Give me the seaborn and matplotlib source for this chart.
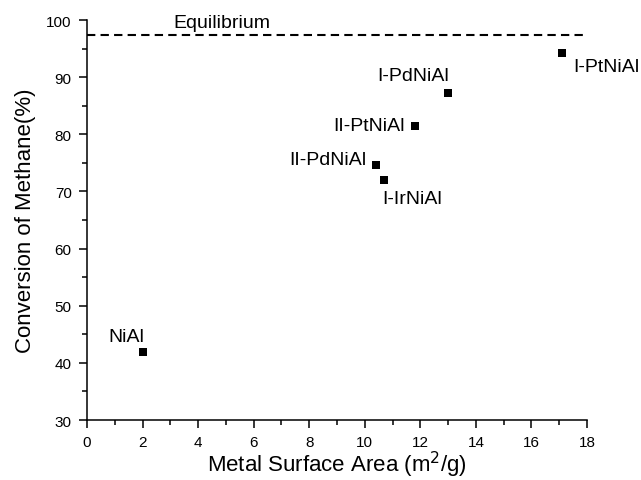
import matplotlib
matplotlib.use('Agg')
import matplotlib.pyplot as plt
from matplotlib.ticker import MultipleLocator
import seaborn as sns
import pandas as pd

# catalyst data
catalysts = ['NiAl', 'II-PdNiAl', 'I-IrNiAl', 'II-PtNiAl', 'I-PdNiAl', 'I-PtNiAl']
surface_area = [2.0, 10.4, 10.7, 11.8, 13.0, 17.1]
conversion = [41.9, 74.7, 72.0, 81.5, 87.2, 94.2]
equilibrium = 97.3

# label offsets (points) and alignment for each catalyst
label_pos = {
    'NiAl': ((-11.5, 11.5), 'center'),
    'II-PdNiAl': ((-6.5, 3.5), 'right'),
    'I-IrNiAl': ((-1.5, -13), 'left'),
    'II-PtNiAl': ((-7, 0), 'right'),
    'I-PdNiAl': ((-25, 13), 'center'),
    'I-PtNiAl': ((8, -9.5), 'left'),
}

df = pd.DataFrame({'catalyst': catalysts, 'area': surface_area, 'conv': conversion})

sns.set_style('ticks')
plt.rcParams['font.family'] = ['Liberation Sans', 'DejaVu Sans']
plt.rcParams['text.color'] = 'black'
plt.rcParams['axes.labelcolor'] = 'black'
plt.rcParams['xtick.color'] = 'black'
plt.rcParams['ytick.color'] = 'black'

fig = plt.figure(figsize=(6.41, 4.81), dpi=100)
ax = fig.add_axes([0.1357, 0.1247, 0.7801, 0.8316])

sns.scatterplot(data=df, x='area', y='conv', marker='s', s=34, color='black',
                edgecolor='black', linewidth=0, ax=ax, zorder=3)
ax.plot([0, 18], [equilibrium, equilibrium], color='black', linestyle='--',
        linewidth=1.5, dashes=(4, 2.5))
ax.text(3.1, 99.6, 'Equilibrium', fontsize=14, va='center', ha='left')

for _, row in df.iterrows():
    offset, ha = label_pos[row['catalyst']]
    ax.annotate(row['catalyst'], (row['area'], row['conv']), xytext=offset,
                textcoords='offset points', ha=ha, va='center', fontsize=14)

ax.set_xlim(0, 18)
ax.set_ylim(30, 100)
ax.xaxis.set_major_locator(MultipleLocator(2))
ax.xaxis.set_minor_locator(MultipleLocator(1))
ax.yaxis.set_major_locator(MultipleLocator(10))
ax.yaxis.set_minor_locator(MultipleLocator(5))
ax.tick_params(which='major', length=6, width=1.1, labelsize=11, pad=5, direction='out')
ax.tick_params(which='minor', length=3.5, width=1.1, direction='out')
for s in ['left', 'bottom']:
    ax.spines[s].set_linewidth(1.1)
    ax.spines[s].set_color('black')
sns.despine(ax=ax)

ax.set_xlabel('Metal Surface Area (m$^2$/g)', fontsize=16, labelpad=0)
ax.set_ylabel('Conversion of Methane(%)', fontsize=16, labelpad=7)

fig.savefig('out.png', dpi=100)
